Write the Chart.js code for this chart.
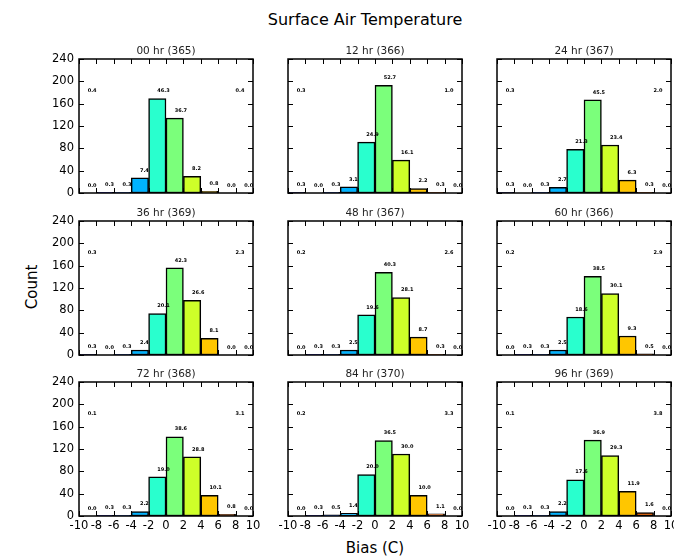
<!DOCTYPE html>
<html>
<head>
<meta charset="utf-8">
<script src="https://cdn.jsdelivr.net/npm/chart.js@4.4.0/dist/chart.umd.min.js"></script>
<style>
  html, body { margin: 0; padding: 0; background: #fff; }
  #fig { position: relative; width: 674px; height: 559px; overflow: hidden; font-family: 'DejaVu Sans', sans-serif; color: #000; }
  #fig canvas { position: absolute; }
  .lbl { position: absolute; white-space: nowrap; transform: translate(-50%, -50%); }
</style>
</head>
<body>
<div id="fig">
  <div class="lbl" style="left:365px; top:19px; font-size:16px;">Surface Air Temperature</div>
  <div class="lbl" style="left:32px; top:287px; font-size:15px; transform: translate(-50%, -50%) rotate(-90deg);">Count</div>
  <div class="lbl" style="left:375px; top:548px; font-size:15px;">Bias (C)</div>
</div>
<script>
// bins of 2 C from -10 to 10
const binCenters = [-9, -7, -5, -3, -1, 1, 3, 5, 7, 9];
const binColors = ['#000080', '#0000f3', '#004dff', '#00b3ff', '#29ffce',
                   '#7bff7b', '#ceff29', '#ffc600', '#ff6800', '#ff0900'];
const xTicks = [-10, -8, -6, -4, -2, 0, 2, 4, 6, 8, 10];
const yTicks = [0, 40, 80, 120, 160, 200, 240];

const panelTitles = ['00 hr (365)', '12 hr (366)', '24 hr (367)',
                     '36 hr (369)', '48 hr (367)', '60 hr (366)',
                     '72 hr (368)', '84 hr (370)', '96 hr (369)'];

// counts per bin (bar heights)
const counts00 = [0, 1, 1, 27, 169, 134, 30, 3, 0, 0];
const counts12 = [1, 0, 1, 11, 91, 193, 59, 8, 1, 0];
const counts24 = [1, 0, 1, 10, 78, 167, 86, 23, 1, 0];
const counts36 = [1, 0, 1, 9, 74, 156, 98, 30, 0, 0];
const counts48 = [0, 1, 1, 9, 72, 148, 103, 32, 1, 0];
const counts60 = [0, 1, 1, 9, 68, 141, 110, 34, 2, 0];
const counts72 = [0, 1, 1, 8, 70, 142, 106, 37, 3, 0];
const counts84 = [0, 1, 2, 5, 74, 135, 111, 37, 4, 0];
const counts96 = [0, 1, 1, 8, 65, 136, 108, 44, 6, 0];

// percent labels per bin
const pct00 = [0.0, 0.3, 0.3, 7.4, 46.3, 36.7, 8.2, 0.8, 0.0, 0.0];
const pct12 = [0.3, 0.0, 0.3, 3.1, 24.9, 52.7, 16.1, 2.2, 0.3, 0.0];
const pct24 = [0.3, 0.0, 0.3, 2.7, 21.3, 45.5, 23.4, 6.3, 0.3, 0.0];
const pct36 = [0.3, 0.0, 0.3, 2.4, 20.1, 42.3, 26.6, 8.1, 0.0, 0.0];
const pct48 = [0.0, 0.3, 0.3, 2.5, 19.6, 40.3, 28.1, 8.7, 0.3, 0.0];
const pct60 = [0.0, 0.3, 0.3, 2.5, 18.6, 38.5, 30.1, 9.3, 0.5, 0.0];
const pct72 = [0.0, 0.3, 0.3, 2.2, 19.0, 38.6, 28.8, 10.1, 0.8, 0.0];
const pct84 = [0.0, 0.3, 0.5, 1.4, 20.0, 36.5, 30.0, 10.0, 1.1, 0.0];
const pct96 = [0.0, 0.3, 0.3, 2.2, 17.6, 36.9, 29.3, 11.9, 1.6, 0.0];

// percent outside the -10..10 range
const belowPct = [0.4, 0.3, 0.3, 0.3, 0.2, 0.2, 0.1, 0.2, 0.1];
const abovePct = [0.4, 1.0, 2.0, 2.3, 2.6, 2.9, 3.1, 3.3, 3.8];

const allCounts = [counts00, counts12, counts24, counts36, counts48, counts60, counts72, counts84, counts96];
const allPct = [pct00, pct12, pct24, pct36, pct48, pct60, pct72, pct84, pct96];

// plot area geometry
const colLeft = [79, 288, 497];
const rowTop = [59, 221, 382];
const PLOT_W = 174, PLOT_H = 134;
const PAD_L = 50, PAD_T = 22, PAD_R = 12, PAD_B = 26;

const panelDecor = {
    id: 'panelDecor',
    afterDatasetsDraw(chart, args, opts) {
        const { ctx, chartArea: a } = chart;
        const x = chart.scales.x, y = chart.scales.y;
        ctx.save();

        // inward tick marks on all four sides
        ctx.strokeStyle = '#000';
        ctx.lineWidth = 1;
        ctx.beginPath();
        xTicks.forEach(v => {
            const px = Math.round(x.getPixelForValue(v)) + 0.5;
            ctx.moveTo(px, a.bottom); ctx.lineTo(px, a.bottom - 5);
            ctx.moveTo(px, a.top); ctx.lineTo(px, a.top + 5);
        });
        yTicks.forEach(v => {
            const py = Math.round(y.getPixelForValue(v)) + 0.5;
            ctx.moveTo(a.left, py); ctx.lineTo(a.left + 5, py);
            ctx.moveTo(a.right, py); ctx.lineTo(a.right - 5, py);
        });
        ctx.stroke();

        ctx.lineWidth = 1.5;
        ctx.strokeRect(a.left, a.top, a.width, a.height);

        // panel title
        ctx.fillStyle = '#222';
        ctx.font = '10.5px "DejaVu Sans"';
        ctx.textAlign = 'center';
        ctx.textBaseline = 'middle';
        ctx.fillText(opts.title, (a.left + a.right) / 2, a.top - 8);

        // percent labels, clipped to the axes
        ctx.beginPath();
        ctx.rect(a.left, a.top, a.width, a.height);
        ctx.clip();
        ctx.fillStyle = '#000';
        ctx.font = 'bold 5px "DejaVu Sans"';
        ctx.textAlign = 'left';
        opts.pct.forEach((p, i) => {
            ctx.fillText(p.toFixed(1), x.getPixelForValue(binCenters[i]),
                         y.getPixelForValue(opts.counts[i] + 13.5));
        });
        ctx.fillText(opts.below.toFixed(1), x.getPixelForValue(-9), y.getPixelForValue(183));
        ctx.fillText(opts.above.toFixed(1), x.getPixelForValue(8), y.getPixelForValue(183));
        ctx.restore();
    }
};

const fig = document.getElementById('fig');

panelTitles.forEach((title, k) => {
    const row = Math.floor(k / 3), col = k % 3;
    const cv = document.createElement('canvas');
    const w = PAD_L + PLOT_W + PAD_R, h = PAD_T + PLOT_H + PAD_B;
    cv.width = w; cv.height = h;
    cv.style.left = (colLeft[col] - PAD_L) + 'px';
    cv.style.top = (rowTop[row] - PAD_T) + 'px';
    cv.style.width = w + 'px'; cv.style.height = h + 'px';
    fig.appendChild(cv);

    const counts = allCounts[k];

    new Chart(cv, {
        type: 'bar',
        data: {
            datasets: [{
                data: binCenters.map((c, i) => ({ x: c, y: counts[i] })),
                backgroundColor: binColors,
                borderColor: '#000',
                borderWidth: 1.5,
                borderSkipped: false,
                barPercentage: 1,
                categoryPercentage: 1
            }]
        },
        options: {
            responsive: false,
            animation: false,
            devicePixelRatio: 1,
            layout: { padding: { left: 0, top: PAD_T, right: PAD_R, bottom: 0 } },
            plugins: {
                legend: { display: false },
                tooltip: { enabled: false },
                panelDecor: {
                    title: title,
                    pct: allPct[k],
                    counts: counts,
                    below: belowPct[k],
                    above: abovePct[k]
                }
            },
            scales: {
                x: {
                    type: 'linear',
                    min: -10, max: 10,
                    offset: false,
                    grid: { display: false, drawTicks: false },
                    border: { display: false },
                    afterBuildTicks: s => { s.ticks = xTicks.map(v => ({ value: v })); },
                    afterFit: s => { s.height = PAD_B; },
                    ticks: {
                        display: row === 2,
                        padding: 3,
                        maxRotation: 0,
                        autoSkip: false,
                        color: '#000',
                        font: { family: 'DejaVu Sans', size: 11.5 }
                    }
                },
                y: {
                    min: 0, max: 240,
                    grid: { display: false, drawTicks: false },
                    border: { display: false },
                    afterBuildTicks: s => { s.ticks = yTicks.map(v => ({ value: v })); },
                    afterFit: s => { s.width = PAD_L; },
                    ticks: {
                        display: col === 0,
                        padding: 5,
                        color: '#000',
                        font: { family: 'DejaVu Sans', size: 11.5 }
                    }
                }
            }
        },
        plugins: [panelDecor]
    });
});
</script>
</body>
</html>
